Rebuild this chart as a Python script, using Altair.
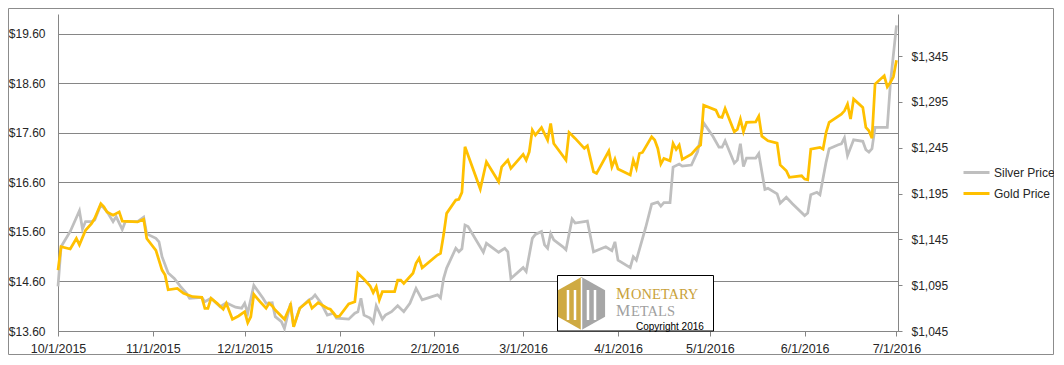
import altair as alt
import pandas as pd

# ---------------- data ----------------
silver_dates = [
    "10/1/2015", "10/2/2015", "10/5/2015", "10/8/2015", "10/9/2015", "10/10/2015", "10/12/2015",
    "10/13/2015", "10/15/2015", "10/17/2015", "10/19/2015", "10/20/2015", "10/22/2015", "10/23/2015",
    "10/27/2015", "10/29/2015", "10/30/2015", "11/2/2015", "11/3/2015", "11/4/2015", "11/6/2015",
    "11/8/2015", "11/10/2015", "11/12/2015", "11/13/2015", "11/17/2015", "11/18/2015", "11/20/2015",
    "11/23/2015", "11/25/2015", "11/28/2015", "11/30/2015", "12/1/2015", "12/2/2015", "12/4/2015",
    "12/7/2015", "12/8/2015", "12/10/2015", "12/11/2015", "12/13/2015", "12/14/2015", "12/16/2015",
    "12/17/2015", "12/19/2015", "12/22/2015", "12/23/2015", "12/24/2015", "12/26/2015", "12/28/2015",
    "12/30/2015", "12/31/2015", "1/4/2016", "1/6/2016", "1/7/2016", "1/8/2016", "1/9/2016",
    "1/11/2016", "1/12/2016", "1/13/2016", "1/15/2016", "1/16/2016", "1/18/2016", "1/20/2016",
    "1/22/2016", "1/24/2016", "1/26/2016", "1/28/2016", "2/2/2016", "2/3/2016", "2/4/2016",
    "2/5/2016", "2/8/2016", "2/9/2016", "2/10/2016", "2/11/2016", "2/12/2016", "2/17/2016",
    "2/18/2016", "2/22/2016", "2/24/2016", "2/25/2016", "2/26/2016", "3/1/2016", "3/2/2016",
    "3/4/2016", "3/5/2016", "3/7/2016", "3/8/2016", "3/9/2016", "3/10/2016", "3/11/2016",
    "3/14/2016", "3/15/2016", "3/17/2016", "3/18/2016", "3/22/2016", "3/24/2016", "3/28/2016",
    "3/30/2016", "3/31/2016", "4/1/2016", "4/5/2016", "4/6/2016", "4/7/2016", "4/10/2016",
    "4/12/2016", "4/14/2016", "4/15/2016", "4/16/2016", "4/18/2016", "4/19/2016", "4/21/2016",
    "4/22/2016", "4/25/2016", "4/27/2016", "4/29/2016", "5/2/2016", "5/4/2016", "5/5/2016",
    "5/6/2016", "5/9/2016", "5/10/2016", "5/11/2016", "5/12/2016", "5/13/2016", "5/16/2016",
    "5/17/2016", "5/19/2016", "5/20/2016", "5/23/2016", "5/24/2016", "5/26/2016", "5/28/2016",
    "6/1/2016", "6/2/2016", "6/3/2016", "6/5/2016", "6/6/2016", "6/8/2016", "6/9/2016",
    "6/12/2016", "6/13/2016", "6/14/2016", "6/15/2016", "6/17/2016", "6/20/2016", "6/21/2016",
    "6/22/2016", "6/23/2016", "6/24/2016", "6/28/2016", "6/29/2016", "7/1/2016",
]
silver_prices = [
    14.50, 15.30, 15.61, 16.03, 15.66, 15.81, 15.81,
    15.84, 16.15, 16.01, 15.81, 15.91, 15.65, 15.81,
    15.81, 15.90, 15.56, 15.47, 15.40, 15.10, 14.77,
    14.66, 14.50, 14.36, 14.26, 14.28, 14.19, 14.26,
    14.09, 14.17, 14.08, 14.06, 14.16, 13.96, 14.52,
    14.26, 14.16, 14.17, 13.89, 13.79, 13.65, 14.16,
    13.69, 14.06, 14.23, 14.26, 14.33, 14.16, 13.92,
    13.96, 13.86, 13.84, 13.96, 13.99, 14.26, 13.92,
    13.86, 13.77, 14.11, 13.84, 13.92, 13.99, 14.11,
    13.99, 14.16, 14.46, 14.23, 14.33, 14.27, 14.66,
    14.87, 15.27, 15.20, 15.26, 15.74, 15.71, 15.19,
    15.37, 15.19, 15.27, 15.20, 14.66, 14.88, 14.80,
    15.47, 15.55, 15.61, 15.34, 15.27, 15.57, 15.44,
    15.30, 15.24, 15.86, 15.78, 15.82, 15.20, 15.30,
    15.22, 15.40, 15.03, 14.88, 15.10, 15.03, 15.68,
    16.16, 16.20, 16.12, 16.19, 16.19, 16.91, 16.97,
    16.93, 16.95, 17.22, 17.80, 17.53, 17.31, 17.31,
    17.44, 16.99, 17.05, 17.38, 16.92, 17.09, 17.09,
    17.18, 16.46, 16.48, 16.37, 16.18, 16.30, 16.17,
    15.93, 15.98, 16.35, 16.40, 16.35, 17.01, 17.28,
    17.36, 17.38, 17.50, 17.14, 17.46, 17.43, 17.26,
    17.21, 17.28, 17.71, 17.71, 18.59, 19.77,
]

gold_dates = [
    "10/1/2015", "10/2/2015", "10/5/2015", "10/7/2015", "10/8/2015", "10/10/2015", "10/12/2015",
    "10/13/2015", "10/15/2015", "10/16/2015", "10/17/2015", "10/19/2015", "10/21/2015", "10/22/2015",
    "10/27/2015", "10/29/2015", "10/30/2015", "11/2/2015", "11/4/2015", "11/5/2015", "11/6/2015",
    "11/9/2015", "11/11/2015", "11/14/2015", "11/17/2015", "11/18/2015", "11/19/2015", "11/20/2015",
    "11/22/2015", "11/24/2015", "11/25/2015", "11/27/2015", "11/29/2015", "12/1/2015", "12/2/2015",
    "12/3/2015", "12/4/2015", "12/6/2015", "12/8/2015", "12/9/2015", "12/10/2015", "12/11/2015",
    "12/14/2015", "12/16/2015", "12/17/2015", "12/19/2015", "12/22/2015", "12/23/2015", "12/25/2015",
    "12/28/2015", "12/29/2015", "12/31/2015", "1/1/2016", "1/4/2016", "1/6/2016", "1/7/2016",
    "1/9/2016", "1/11/2016", "1/12/2016", "1/13/2016", "1/14/2016", "1/15/2016", "1/19/2016",
    "1/20/2016", "1/21/2016", "1/22/2016", "1/25/2016", "1/26/2016", "1/27/2016", "1/28/2016",
    "2/2/2016", "2/3/2016", "2/4/2016", "2/5/2016", "2/8/2016", "2/9/2016", "2/10/2016",
    "2/11/2016", "2/16/2016", "2/18/2016", "2/22/2016", "2/23/2016", "2/25/2016", "2/26/2016",
    "3/1/2016", "3/2/2016", "3/3/2016", "3/4/2016", "3/5/2016", "3/7/2016", "3/9/2016",
    "3/10/2016", "3/11/2016", "3/15/2016", "3/16/2016", "3/18/2016", "3/21/2016", "3/22/2016",
    "3/24/2016", "3/25/2016", "3/29/2016", "3/30/2016", "3/31/2016", "4/1/2016", "4/5/2016",
    "4/6/2016", "4/7/2016", "4/8/2016", "4/9/2016", "4/12/2016", "4/13/2016", "4/14/2016",
    "4/15/2016", "4/16/2016", "4/18/2016", "4/19/2016", "4/20/2016", "4/21/2016", "4/22/2016",
    "4/25/2016", "4/27/2016", "4/28/2016", "4/29/2016", "5/3/2016", "5/4/2016", "5/5/2016",
    "5/6/2016", "5/9/2016", "5/10/2016", "5/11/2016", "5/12/2016", "5/13/2016", "5/16/2016",
    "5/17/2016", "5/18/2016", "5/20/2016", "5/23/2016", "5/24/2016", "5/26/2016", "5/27/2016",
    "5/31/2016", "6/1/2016", "6/2/2016", "6/3/2016", "6/6/2016", "6/7/2016", "6/8/2016",
    "6/9/2016", "6/13/2016", "6/14/2016", "6/15/2016", "6/16/2016", "6/17/2016", "6/20/2016",
    "6/21/2016", "6/22/2016", "6/23/2016", "6/24/2016", "6/27/2016", "6/28/2016", "6/29/2016",
    "6/30/2016", "7/1/2016",
]
gold_prices = [
    1111.5, 1137.0, 1134.5, 1146.0, 1139.0, 1155.0, 1162.5,
    1168.0, 1184.0, 1180.6, 1175.0, 1171.5, 1175.0, 1165.0,
    1164.0, 1167.0, 1146.0, 1133.0, 1111.5, 1106.0, 1090.0,
    1091.5, 1086.1, 1082.4, 1081.8, 1069.8, 1069.8, 1080.7,
    1075.2, 1068.7, 1075.2, 1057.8, 1061.4, 1066.1, 1054.1,
    1060.6, 1085.0, 1077.0, 1069.8, 1075.2, 1072.3, 1067.9,
    1057.8, 1073.4, 1049.7, 1069.8, 1078.0, 1069.8, 1075.9,
    1069.8, 1068.7, 1060.6, 1061.4, 1074.5, 1077.0, 1108.0,
    1101.4, 1094.1, 1086.8, 1093.3, 1078.8, 1087.9, 1087.9,
    1100.6, 1100.6, 1097.0, 1108.0, 1118.9, 1124.3, 1114.0,
    1127.9, 1129.7, 1149.7, 1173.4, 1187.9, 1188.7, 1196.3,
    1246.1, 1199.9, 1229.7, 1207.9, 1224.2, 1231.5, 1222.5,
    1237.8, 1231.5, 1240.6, 1264.3, 1258.8, 1267.0, 1253.4,
    1271.6, 1249.7, 1231.5, 1261.8, 1255.2, 1244.3, 1247.2,
    1218.8, 1217.0, 1241.4, 1224.2, 1232.6, 1221.7, 1215.2,
    1231.5, 1222.5, 1238.8, 1239.9, 1257.0, 1253.4, 1244.3,
    1227.2, 1233.4, 1230.8, 1249.7, 1243.2, 1247.9, 1232.3,
    1238.1, 1245.4, 1247.9, 1291.5, 1286.1, 1278.8, 1278.1,
    1287.9, 1262.5, 1265.0, 1276.3, 1262.5, 1272.7, 1273.3,
    1279.5, 1257.7, 1252.6, 1250.0, 1226.3, 1219.9, 1212.7,
    1214.4, 1210.8, 1210.0, 1243.5, 1245.4, 1243.5, 1261.7,
    1272.7, 1281.7, 1285.3, 1292.6, 1276.3, 1298.1, 1289.0,
    1267.2, 1263.5, 1255.5, 1314.5, 1323.5, 1311.5, 1316.3,
    1322.4, 1340.6,
]

series_names = ["Silver Price", "Gold Price"]
series_colors = ["#BFBFBF", "#FFC000"]
left_ticks = [13.6, 14.6, 15.6, 16.6, 17.6, 18.6, 19.6]
right_ticks = [1045, 1095, 1145, 1195, 1245, 1295, 1345]
month_ticks = [(2015, 10), (2015, 11), (2015, 12), (2016, 1), (2016, 2),
               (2016, 3), (2016, 4), (2016, 5), (2016, 6), (2016, 7)]

# ---------------- styling ----------------
FONT = "Liberation Sans"
TXT = "#262626"
AX = "#868686"
W, H = 840, 317
PAD_L, PAD_T, PAD_R, PAD_B = 50, 6, 156, 24

silver_df = pd.DataFrame({"date": silver_dates, "price": silver_prices, "series": series_names[0]})
gold_df = pd.DataFrame({"date": gold_dates, "price": gold_prices, "series": series_names[1]})

x_enc = alt.X(
    "date:T",
    scale=alt.Scale(domain=[alt.DateTime(year=2015, month=10, date=1),
                            alt.DateTime(year=2016, month=7, date=1, hours=12)]),
    axis=alt.Axis(values=[alt.DateTime(year=y, month=m, date=1) for y, m in month_ticks],
                  format="%-m/%-d/%Y", title=None, grid=False, domainColor=AX, tickColor=AX,
                  tickSize=5, labelPadding=6, labelFont=FONT, labelFontSize=12.5,
                  labelColor=TXT, labelOverlap=False, labelFlush=False),
)

color_enc = alt.Color(
    "series:N",
    scale=alt.Scale(domain=series_names, range=series_colors),
    legend=alt.Legend(orient="none", legendX=904, legendY=144, title=None,
                      symbolType="stroke", symbolSize=676, symbolStrokeWidth=3,
                      labelFont=FONT, labelFontSize=12, labelColor=TXT,
                      labelOffset=3, rowPadding=-2, padding=0),
)

silver = alt.Chart(silver_df).mark_line(strokeWidth=2.75).encode(
    x=x_enc,
    y=alt.Y("price:Q", scale=alt.Scale(domain=[13.6, 20.0], nice=False, zero=False),
            axis=alt.Axis(orient="left", values=left_ticks, format="$.2f", title=None,
                          grid=True, gridColor=AX, gridWidth=1, ticks=False, tickSize=0,
                          domainColor=AX, labelPadding=13, labelFont=FONT, labelFontSize=12,
                          labelColor=TXT)),
    color=color_enc,
)

gold = alt.Chart(gold_df).mark_line(strokeWidth=2.75).encode(
    x=x_enc,
    y=alt.Y("price:Q", scale=alt.Scale(domain=[1045, 1391], nice=False, zero=False),
            axis=alt.Axis(orient="right", values=right_ticks, format="$,.0f", title=None,
                          grid=False, tickSize=4, tickColor=AX, domainColor=AX,
                          labelPadding=9, labelFont=FONT, labelFontSize=12, labelColor=TXT)),
    color=color_enc,
)

one = alt.Data(values=[{"k": 0}])

# outer chart frame
frame = alt.Chart(one).mark_rect(fillOpacity=0, stroke="#8c8c8c", strokeWidth=1).encode(
    x=alt.value(-PAD_L + 0.5), x2=alt.value(W + PAD_R - 0.5),
    y=alt.value(-PAD_T + 0.5), y2=alt.value(H + PAD_B - 0.5),
)

# Monetary Metals logo box
logo_box = alt.Chart(one).mark_rect(fill="white", stroke="black", strokeWidth=1).encode(
    x=alt.value(499.5), x2=alt.value(655.5), y=alt.value(261.5), y2=alt.value(317),
)
hex_left = alt.Chart(one).mark_point(
    shape="M0,-1L-0.89,-0.5L-0.89,0.5L0,1Z", filled=True, size=2809,
    color="#CFAA42", opacity=1, strokeWidth=0,
).encode(x=alt.value(523.5), y=alt.value(289.5))
hex_right = alt.Chart(one).mark_point(
    shape="M0,-1L0.89,-0.5L0.89,0.5L0,1Z", filled=True, size=2809,
    color="#A6A6A6", opacity=1, strokeWidth=0,
).encode(x=alt.value(523.5), y=alt.value(289.5))
pillars = [
    alt.Chart(one).mark_rule(color="white", strokeWidth=2.5).encode(
        x=alt.value(px), y=alt.value(276), y2=alt.value(306))
    for px in (510, 517, 530, 537)
]
center_rule = alt.Chart(one).mark_rule(color="white", strokeWidth=1.5).encode(
    x=alt.value(523.5), y=alt.value(264), y2=alt.value(316))

def word(txt, x, y, size, color, font="Liberation Serif"):
    return alt.Chart(one).mark_text(align="left", baseline="alphabetic", font=font,
                                    fontSize=size, color=color).encode(
        x=alt.value(x), y=alt.value(y), text=alt.value(txt))

logo_text = [
    word("M", 558, 285, 16, "#C9A23A"),
    word("ONETARY", 573, 285, 14.5, "#C9A23A"),
    word("M", 558, 302, 16, "#A0A0A0"),
    word("ETALS", 573, 302, 14.5, "#A0A0A0"),
    word("Copyright 2016", 578, 315.5, 10, "black", font="Liberation Sans"),
]

chart = alt.layer(
    frame, silver, gold, logo_box, hex_left, hex_right, *pillars, center_rule, *logo_text
).resolve_scale(y="independent").properties(
    width=W, height=H,
    autosize=alt.AutoSizeParams(type="none"),
    padding={"left": PAD_L, "top": PAD_T, "right": PAD_R, "bottom": PAD_B},
    background="white",
).configure_view(strokeWidth=0)

chart.save("out.html", embed_options={"renderer": "svg", "actions": False})
